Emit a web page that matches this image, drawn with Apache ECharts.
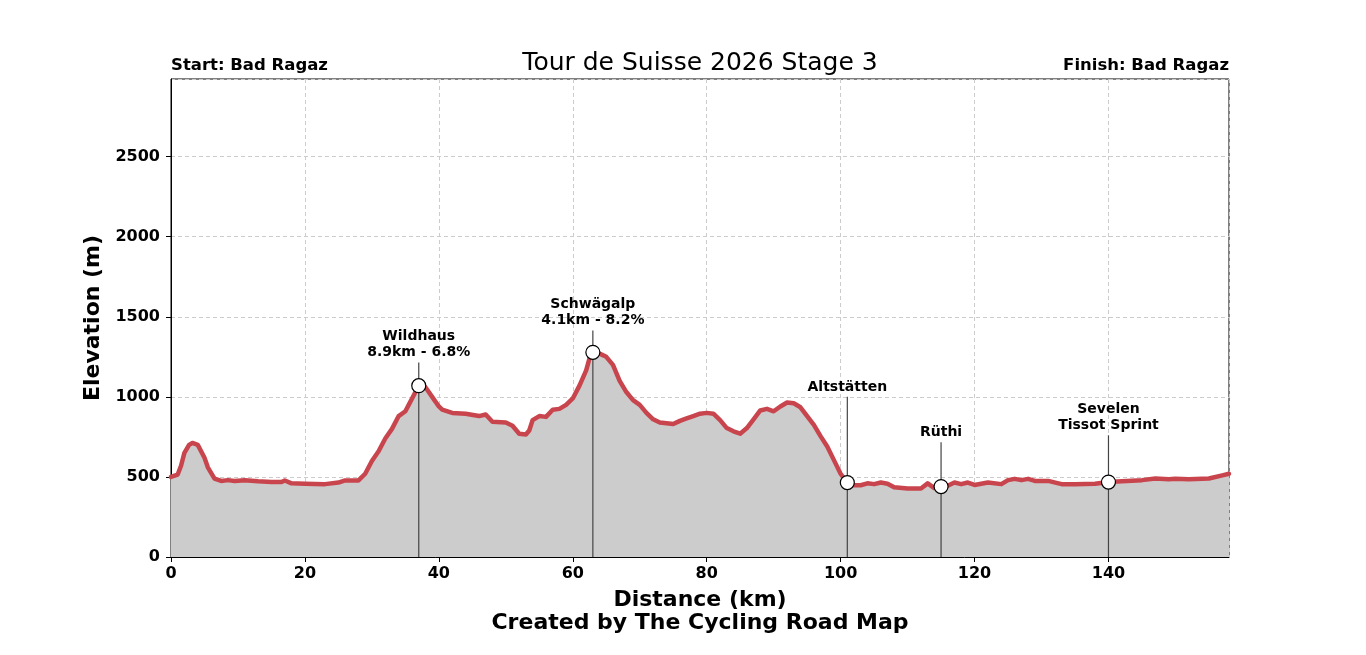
<!DOCTYPE html>
<html><head><meta charset="utf-8">
<script src="https://cdn.jsdelivr.net/npm/echarts@6/dist/echarts.min.js"></script>
<style>html,body{margin:0;padding:0;background:#fff}#c{width:1366px;height:655px}</style>
</head><body><div id="c"></div>
<script>
const distances = [0,1,1.5,2,2.7,3.2,4,5,5.5,6.5,7.5,8.5,9.5,11,13,15,16.5,17,18,20,23,25,26,28,29,30,31,32,33,34,35,35.5,36,37,38,39,40,40.5,42,44,46,47,48,50,51,52,53,53.5,54,55,56,57,58,59,60,61,62,62.5,63,64,65,66,67,68,69,70,71,72,73,74,75,76,77,78,79,80,81,82,83,84,85,86,87,88,89,90,91,92,93,94,95,96,97,98,99,100,101,102,103,104,105,106,107,108,110,112,113,114,115,116,117,118,119,120,122,124,125,126,127,128,129,131,133,135,138,140,142,145,147,149,150,152,155,157,158];
const elevations = [500,515,570,650,700,712,700,620,560,490,475,480,475,480,473,468,468,478,460,458,455,465,478,478,520,600,660,740,800,880,910,950,990,1070,1060,1000,940,920,900,895,880,890,845,840,820,770,765,790,855,880,875,920,925,950,990,1070,1165,1240,1278,1270,1250,1200,1100,1030,980,950,900,860,840,835,830,850,865,880,895,900,895,855,805,785,770,805,860,915,925,910,940,965,960,935,880,825,755,690,605,520,462,448,448,460,455,465,458,435,428,428,460,430,440,445,465,455,465,450,465,455,480,488,480,488,475,475,455,455,458,468,473,480,490,485,488,485,490,510,520];
const poiKm = [37, 63, 101, 115, 140];
const poiElev = [1070, 1278, 465, 440, 468];
const poiNames = ["Wildhaus\n8.9km - 6.8%", "Schwägalp\n4.1km - 8.2%", "Altstätten", "Rüthi", "Sevelen\nTissot Sprint"];
const poiLabelElev = [1215, 1415, 1000, 717, 760];
const xTicks = [0,20,40,60,80,100,120,140];
const yTicks = [0,500,1000,1500,2000,2500];

const profile = distances.map((d,i)=>[d, elevations[i]]);
const pois = poiKm.map((d,i)=>[d, poiElev[i], poiLabelElev[i], i]);
const FONT = "DejaVu Sans";

const chart = echarts.init(document.getElementById('c'), null, {renderer:'canvas'});
chart.setOption({
  animation:false,
  backgroundColor:'#fff',
  title:[
    {text:'Tour de Suisse 2026 Stage 3', left:700, textAlign:'center', top:51, padding:0, textStyle:{fontFamily:FONT, fontSize:25, fontWeight:'normal', color:'#000'}},
    {text:'Start: Bad Ragaz', left:171, top:57, padding:0, textStyle:{fontFamily:FONT, fontSize:16.5, fontWeight:'bold', color:'#000'}},
    {text:'Finish: Bad Ragaz', right:137, top:57, padding:0, textStyle:{fontFamily:FONT, fontSize:16.5, fontWeight:'bold', color:'#000'}},
    {text:'Created by The Cycling Road Map', left:700, textAlign:'center', top:612, padding:0, textStyle:{fontFamily:FONT, fontSize:22, fontWeight:'bold', color:'#000'}}
  ],
  grid:{left:171, right:137, top:79, bottom:98, show:true, borderColor:'#000', borderWidth:1, backgroundColor:'transparent'},
  xAxis:{type:'value', min:0, max:158, interval:20,
    name:'Distance (km)', nameLocation:'middle', nameGap:32,
    nameTextStyle:{fontFamily:FONT, fontSize:22, fontWeight:'bold', color:'#000'},
    axisLine:{show:true, lineStyle:{color:'#000', width:1}},
    axisTick:{show:true, length:5, lineStyle:{color:'#000'}},
    axisLabel:{fontFamily:FONT, fontSize:16, fontWeight:'bold', color:'#000', margin:9, showMaxLabel:false,
      formatter:v=> xTicks.includes(v)? String(v):''},
    splitLine:{show:true, lineStyle:{color:'#cccccc', type:[4,3], width:1}}
  },
  yAxis:{type:'value', min:0, max:2985, interval:500,
    name:'Elevation (m)', nameLocation:'middle', nameGap:60, nameRotate:90,
    nameTextStyle:{fontFamily:FONT, fontSize:22, fontWeight:'bold', color:'#000'},
    axisLine:{show:true, lineStyle:{color:'#000', width:1}},
    axisTick:{show:true, length:5, lineStyle:{color:'#000'}},
    axisLabel:{fontFamily:FONT, fontSize:16, fontWeight:'bold', color:'#000', margin:11, showMaxLabel:false,
      formatter:v=> yTicks.includes(v)? String(v):''},
    splitLine:{show:true, lineStyle:{color:'#cccccc', type:[4,3], width:1}}
  },
  series:[
    {type:'line', data:profile, showSymbol:false, smooth:false,
      lineStyle:{color:'#c9454e', width:4.5, join:'round', cap:'round'},
      areaStyle:{color:'#cccccc', opacity:1}, z:2},
    {type:'custom', data:pois, z:5, clip:false,
      renderItem:(params, api)=>{
        const km = api.value(0), el = api.value(1), lel = api.value(2), idx = api.value(3);
        const p = api.coord([km, el]);
        const b = api.coord([km, 0]);
        const t = api.coord([km, lel]);
        return {type:'group', children:[
          {type:'line', shape:{x1:p[0], y1:b[1], x2:p[0], y2:t[1]}, style:{stroke:'#444', lineWidth:1.2}},
          {type:'circle', shape:{cx:p[0], cy:p[1], r:7}, style:{fill:'#fff', stroke:'#000', lineWidth:1.2}},
          {type:'text', x:p[0], y:t[1]-2, style:{text:poiNames[idx], fontFamily:FONT, fontSize:14, fontWeight:'bold', fill:'#000', align:'center', verticalAlign:'bottom', lineHeight:16}}
        ]};
      }}
  ]
});
</script></body></html>
